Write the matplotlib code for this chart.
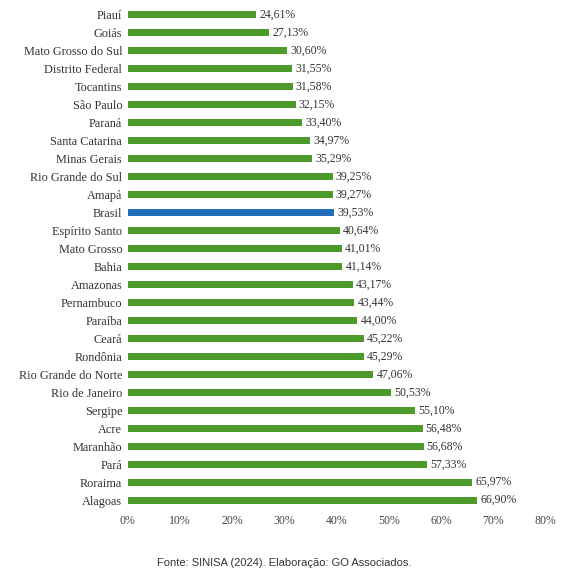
import matplotlib
matplotlib.use("Agg")
import matplotlib.pyplot as plt

states = ["Piauí","Goiás","Mato Grosso do Sul","Distrito Federal","Tocantins","São Paulo","Paraná",
          "Santa Catarina","Minas Gerais","Rio Grande do Sul","Amapá","Brasil","Espírito Santo",
          "Mato Grosso","Bahia","Amazonas","Pernambuco","Paraíba","Ceará","Rondônia",
          "Rio Grande do Norte","Rio de Janeiro","Sergipe","Acre","Maranhão","Pará","Roraima","Alagoas"]
values = [24.61,27.13,30.60,31.55,31.58,32.15,33.40,34.97,35.29,39.25,39.27,39.53,40.64,41.01,41.14,
          43.17,43.44,44.00,45.22,45.29,47.06,50.53,55.10,56.48,56.68,57.33,65.97,66.90]
ticks = [0,10,20,30,40,50,60,70,80]

fig = plt.figure(figsize=(5.68,5.76), dpi=100)
ax = fig.add_axes([0.225,0.116,0.735,0.874])
colors = ["#1f6fb8" if s=="Brasil" else "#4c9a2a" for s in states]
y = list(range(len(states)))
ax.barh(y, values, height=0.4, color=colors)
ax.set_ylim(len(states)-0.5,-0.5)
ax.set_xlim(0,80)
ax.set_yticks(y)
ax.set_yticklabels(states, fontfamily="Liberation Serif", fontsize=8.8, color="#333333")
ax.set_xticks(ticks)
ax.set_xticklabels([f"{t}%" for t in ticks], fontfamily="Liberation Serif", fontsize=8.5, color="#444444")
ax.tick_params(length=0, pad=4)
for s in ax.spines.values():
    s.set_visible(False)
for yi,v in zip(y,values):
    ax.text(v+0.6, yi, f"{v:.2f}%".replace(".",","), va="center", ha="left",
            fontfamily="Liberation Serif", fontsize=8.5, color="#333333")
fig.text(0.5,0.022,"Fonte: SINISA (2024). Elaboração: GO Associados.", ha="center", va="center",
         fontfamily="Liberation Sans", fontsize=8, color="#333333")
fig.savefig("out.png", dpi=100, facecolor="white")
